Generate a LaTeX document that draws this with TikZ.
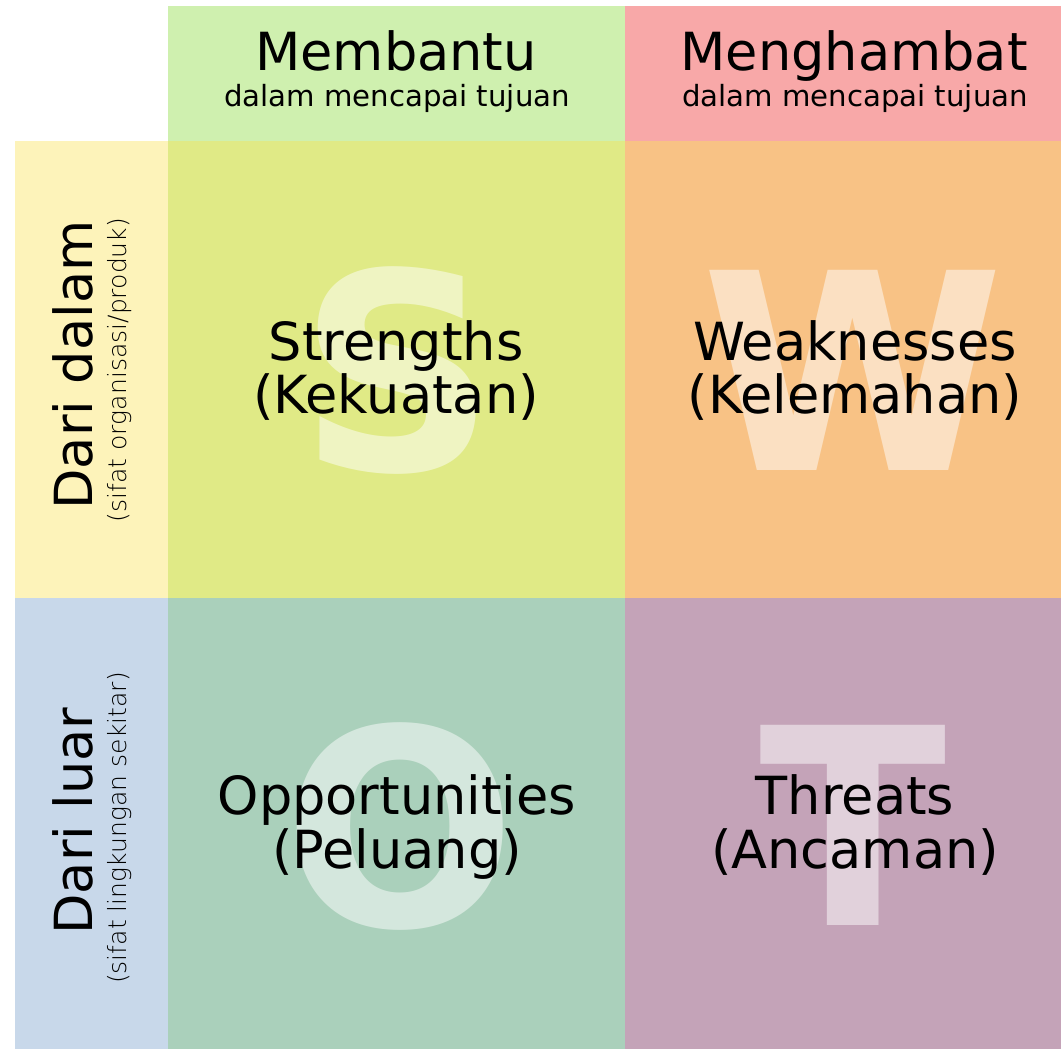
\documentclass[tikz,border=0pt]{standalone}
\usepackage{fontspec}
\setmainfont{DejaVu Sans}
\newfontfamily\thinfont{DejaVu Sans ExtraLight}
\newfontfamily\boldfont{DejaVu Sans Bold}
\definecolor{hdgreen}{HTML}{CFF0AF}
\definecolor{hdred}{HTML}{F8A8A8}
\definecolor{sideyellow}{HTML}{FDF3BA}
\definecolor{sideblue}{HTML}{C8D8EA}
\definecolor{qS}{HTML}{E0EA86}
\definecolor{qW}{HTML}{F8C285}
\definecolor{qO}{HTML}{AAD0BB}
\definecolor{qT}{HTML}{C4A3B8}
\tikzset{
  big/.style={anchor=base, inner sep=0pt, font=\fontsize{39.4}{47}\selectfont},
  sub/.style={anchor=base, inner sep=0pt, font=\fontsize{21.9}{26}\selectfont},
  side/.style={anchor=base, inner sep=0pt, rotate=90, font=\fontsize{39.4}{47}\selectfont},
  sidesub/.style={anchor=base, inner sep=0pt, rotate=90, font=\thinfont\fontsize{18.8}{22}\selectfont},
  ghost/.style={anchor=base, inner sep=0pt, text=white, text opacity=0.5, font=\boldfont\fontsize{206}{220}\selectfont},
}
\begin{document}
\begin{tikzpicture}[x=0.75pt,y=-0.75pt]
\useasboundingbox (0,0) rectangle (1061,1049);
% cells
\fill[hdgreen] (168,6) rectangle (625,141);
\fill[hdred] (625,6) rectangle (1061,141);
\fill[sideyellow] (15,141) rectangle (168,598);
\fill[sideblue] (15,598) rectangle (168,1049);
\fill[qS] (168,141) rectangle (625,598);
\fill[qW] (625,141) rectangle (1061,598);
\fill[qO] (168,598) rectangle (625,1049);
\fill[qT] (625,598) rectangle (1061,1049);
% ghost letters
\node[ghost] (gS) at (397,470) {S};
\node[ghost] (gW) at (853,470) {W};
\node[ghost] (gO) at (400,926) {O};
\node[ghost] (gT) at (853,925) {T};
% headers
\node[big] (h1) at (396,71) {Membantu};
\node[sub] (h1s) at (397,107) {dalam mencapai tujuan};
\node[big] (h2) at (854,71) {Menghambat};
\node[sub] (h2s) at (855,107) {dalam mencapai tujuan};
% side labels
\node[side] (l1) at (92,365) {Dari dalam};
\node[sidesub] (l1s) at (126,370) {(sifat organisasi/produk)};
\node[side] (l2) at (92,821) {Dari luar};
\node[sidesub] (l2s) at (126,828) {(sifat lingkungan sekitar)};
% quadrant labels
\node[big] (s1) at (396,360) {Strengths};
\node[big] (s2) at (396,413) {(Kekuatan)};
\node[big] (w1) at (855,360) {Weaknesses};
\node[big] (w2) at (855,413) {(Kelemahan)};
\node[big] (o1) at (397,814) {Opportunities};
\node[big] (o2) at (397,868) {(Peluang)};
\node[big] (t1) at (855,814) {Threats};
\node[big] (t2) at (855,868) {(Ancaman)};
\end{tikzpicture}
\end{document}
